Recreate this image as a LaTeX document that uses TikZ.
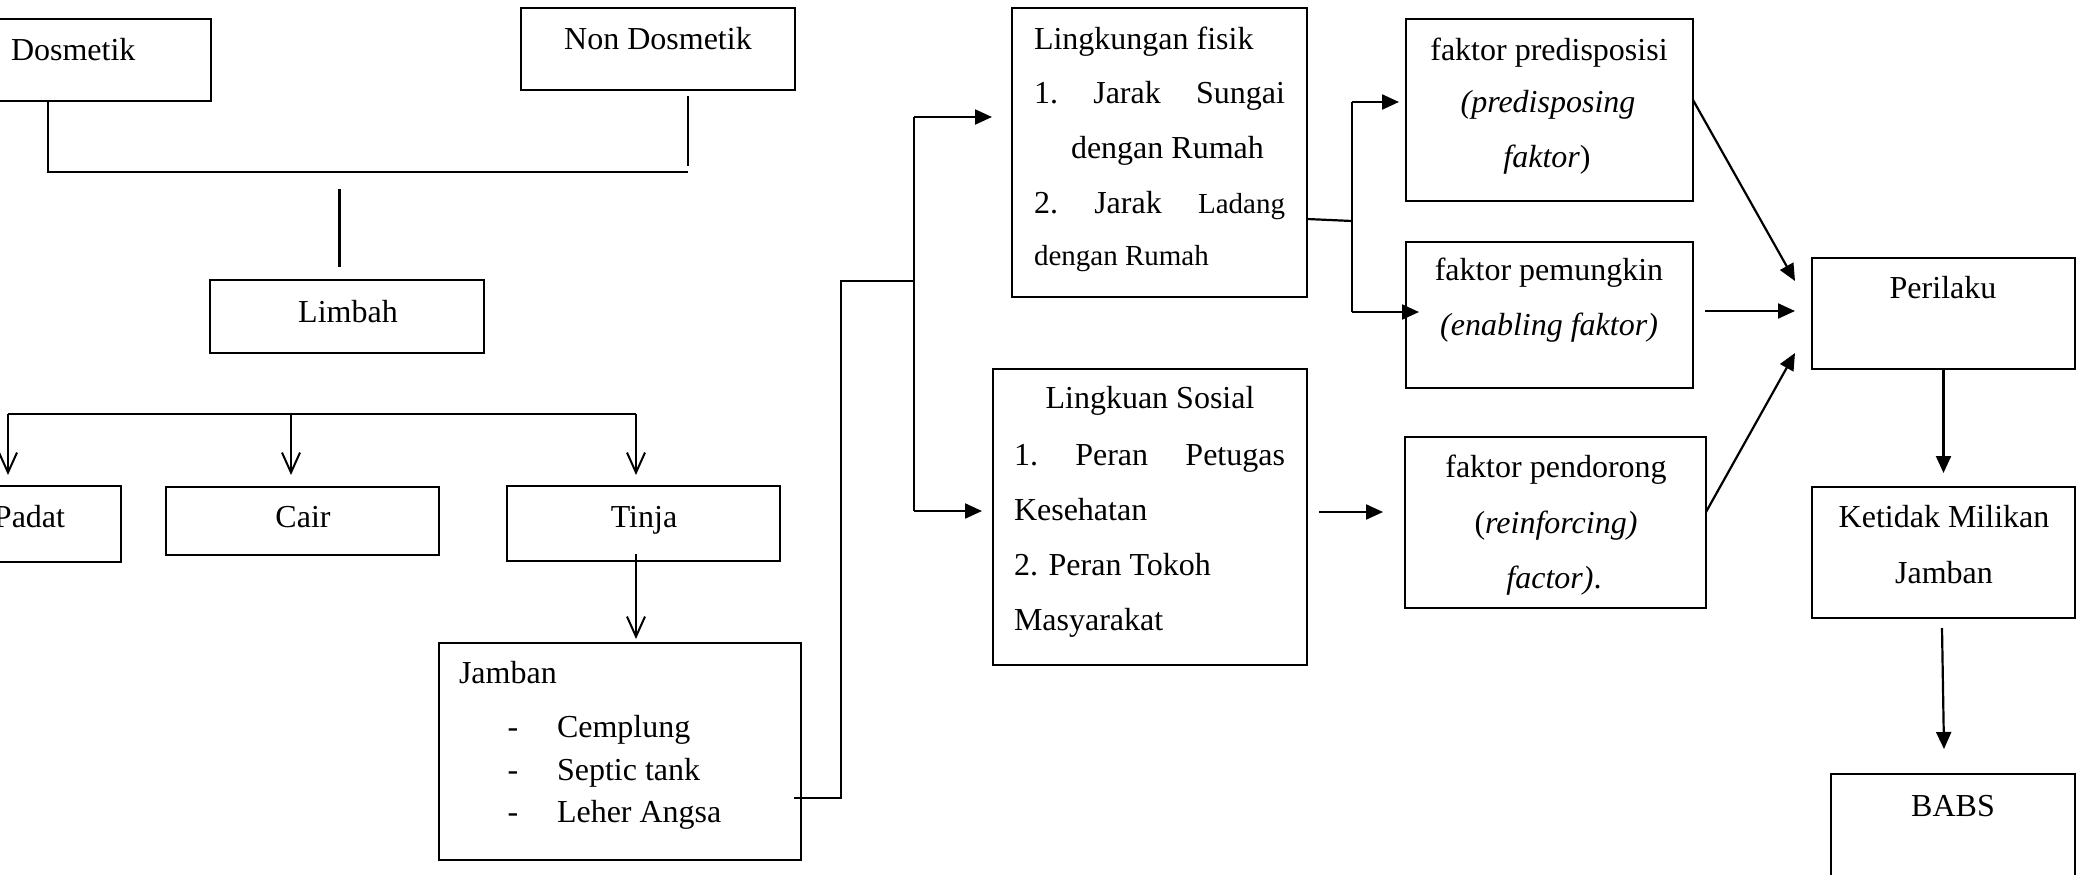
\documentclass[tikz,border=0pt]{standalone}
\usepackage{fontspec}
\setmainfont{Liberation Serif}
\usetikzlibrary{arrows.meta,fit}
\newcommand\fsbig{\fontsize{32}{38}\selectfont}
\newcommand\fsmid{\fontsize{29}{35}\selectfont}
\begin{document}
\begin{tikzpicture}[x=1pt,y=-1pt,
  box/.style={draw, line width=2pt, inner sep=0pt, outer sep=0pt},
  txt/.style={inner sep=0pt, outer sep=0pt, font=\fsbig},
  ln/.style={line width=2.2pt},
  arr/.style={ln, -{Triangle[length=17pt,width=15pt]}},
  oarr/.style={ln, -{Straight Barb[length=20pt,width=18pt,line width=2pt]}}]
\useasboundingbox (0,0) rectangle (2086,875);
\clip (0,0) rectangle (2086,875);
\fill[white] (0,0) rectangle (2086,875);

% boxes
\node[box, fit={(-20,19) (211,101)}] (dos) {};
\node[box, fit={(521,8) (795,90)}] (ndos) {};
\node[box, fit={(210,280) (484,353)}] (limbah) {};
\node[box, fit={(-20,486) (121,562)}] (padat) {};
\node[box, fit={(166,487) (439,555)}] (cair) {};
\node[box, fit={(507,486) (780,561)}] (tinja) {};
\node[box, fit={(439,643) (801,860)}] (jamban) {};
\node[box, fit={(1012,8) (1307,297)}] (fisik) {};
\node[box, fit={(993,369) (1307,665)}] (sosial) {};
\node[box, fit={(1406,19) (1693,201)}] (pred) {};
\node[box, fit={(1406,242) (1693,388)}] (pem) {};
\node[box, fit={(1405,437) (1706,608)}] (pend) {};
\node[box, fit={(1812,258) (2075,369)}] (peri) {};
\node[box, fit={(1812,487) (2075,618)}] (ketidak) {};
\node[box, fit={(1831,774) (2075,900)}] (babs) {};

% texts
\node[txt, anchor=base west] (tdos) at (11,60) {Dosmetik};
\node[txt, anchor=base] (tndos) at (658,50) {Non Dosmetik};
\node[txt, anchor=base] (tlimbah) at (348,322) {Limbah};
\node[txt, anchor=base west] (tpadat) at (-6,527) {Padat};
\node[txt, anchor=base] (tcair) at (303,527) {Cair};
\node[txt, anchor=base] (ttinja) at (644,527) {Tinja};
\node[txt, anchor=base west] (tjamban) at (459,683) {Jamban};
\node[txt, anchor=base] (dash1) at (513,737) {-};
\node[txt, anchor=base] (dash2) at (513,780) {-};
\node[txt, anchor=base] (dash3) at (513,822) {-};
\node[txt, anchor=base west] (j1) at (557,737) {Cemplung};
\node[txt, anchor=base west] (j2) at (557,780) {Septic tank};
\node[txt, anchor=base west] (j3) at (557,822) {Leher Angsa};

\node[txt, anchor=base west] (f0) at (1034,50) {Lingkungan fisik};
\node[txt, anchor=base west] (f1) at (1034,103) {\makebox[251pt][s]{1.\hfill Jarak\hfill Sungai}};
\node[txt, anchor=base west] (f2) at (1071,158) {dengan Rumah};
\node[txt, anchor=base west] (f3) at (1034,213) {\makebox[251pt][s]{2.\hfill Jarak\hfill {\fsmid Ladang}}};
\node[txt, anchor=base west, font=\fsmid] (f4) at (1034,265) {dengan Rumah};

\node[txt, anchor=base] (s0) at (1150,408) {Lingkuan Sosial};
\node[txt, anchor=base west] (s1) at (1014,465) {\makebox[271pt][s]{1.\hfill Peran\hfill Petugas}};
\node[txt, anchor=base west] (s2) at (1014,520) {Kesehatan};
\node[txt, anchor=base west] (s3) at (1014,575) {2. Peran Tokoh};
\node[txt, anchor=base west] (s4) at (1014,630) {Masyarakat};

\node[txt, anchor=base] (p0) at (1549,60) {faktor predisposisi};
\node[txt, anchor=base] (p1) at (1548,113) {\textit{(predisposing}};
\node[txt, anchor=base] (p2) at (1547,167) {\textit{faktor})};
\node[txt, anchor=base] (m0) at (1549,280) {faktor pemungkin};
\node[txt, anchor=base] (m1) at (1549,335) {\textit{(enabling faktor)}};
\node[txt, anchor=base] (r0) at (1556,477) {faktor pendorong};
\node[txt, anchor=base] (r1) at (1556,533) {(\textit{reinforcing)}};
\node[txt, anchor=base] (r2) at (1554,588) {\textit{factor)}.};

\node[txt, anchor=base] (pe0) at (1943,298) {Perilaku};
\node[txt, anchor=base] (k0) at (1944,527) {Ketidak Milikan};
\node[txt, anchor=base] (k1) at (1944,583) {Jamban};
\node[txt, anchor=base] (b0) at (1953,816) {BABS};

% helper coordinates
\coordinate (c1) at (48,172);
\coordinate (c2) at (688,172);
\coordinate (nd1) at (688,96);
\coordinate (nd2) at (688,166);
\coordinate (v1) at (339.5,189);
\coordinate (v2) at (339.5,267);
\coordinate (br1) at (8,414);
\coordinate (br2) at (291,414);
\coordinate (br3) at (636,414);
\coordinate (jout) at (794,798);
\coordinate (kk2) at (841,281);
\coordinate (kk3) at (914,281);
\coordinate (kk4) at (914,117);
\coordinate (kk5) at (914,511);
\coordinate (q0) at (1352,221);
\coordinate (q1) at (1352,102);
\coordinate (q2) at (1352,312);
\coordinate (y219) at (0,219);
\coordinate (y100) at (0,100);
\coordinate (y311) at (0,311);
\coordinate (y512) at (0,512);
\coordinate (e1) at (1795,281);
\coordinate (e2) at (1795,311);
\coordinate (e3) at (1795,353);
\coordinate (g1) at (1942,628);
\coordinate (g2) at (1944,749);

% connectors left
\draw[ln] (dos.south -| c1) -- (c1) -- (c2);
\draw[ln] (nd1) -- (nd2);
\draw[ln] (v1) -- (v2);
\draw[ln] (br1) -- (br3);
\draw[oarr, shorten >=11pt] (br1) -- (br1 |- padat.north);
\draw[oarr, shorten >=12pt] (br2) -- (br2 |- cair.north);
\draw[oarr, shorten >=11pt] (br3) -- (br3 |- tinja.north);
\draw[oarr, shorten >=4pt, shorten <=-7pt] (br3 |- tinja.south) -- (br3 |- jamban.north);

% jamban to environment
\draw[ln] (jout) -| (kk2) -- (kk3);
\draw[ln] (kk4) -- (kk5);
\draw[arr, shorten >=20pt] (kk4) -- (kk4 -| fisik.west);
\draw[arr, shorten >=11pt] (kk5) -- (kk5 -| sosial.west);

% environment to factors
\draw[ln] (fisik.east |- y219) -- (q0);
\draw[ln] (q1) -- (q2);
\draw[arr, shorten >=7pt] (q1) -- (q1 -| pred.west);
\draw[arr, shorten >=-13pt] (q2) -- (q2 -| pem.west);
\draw[arr, shorten <=12pt, shorten >=22pt] (sosial.east |- y512) -- (pend.west |- y512);

% factors to behaviour
\draw[arr] (pred.east |- y100) -- (e1);
\draw[arr, shorten <=12pt] (pem.east |- y311) -- (e2);
\draw[arr] (pend.east |- y512) -- (e3);
\draw[arr, shorten >=14pt] (peri.south) -- (ketidak.north);
\draw[arr] (g1) -- (g2);
\end{tikzpicture}
\end{document}
